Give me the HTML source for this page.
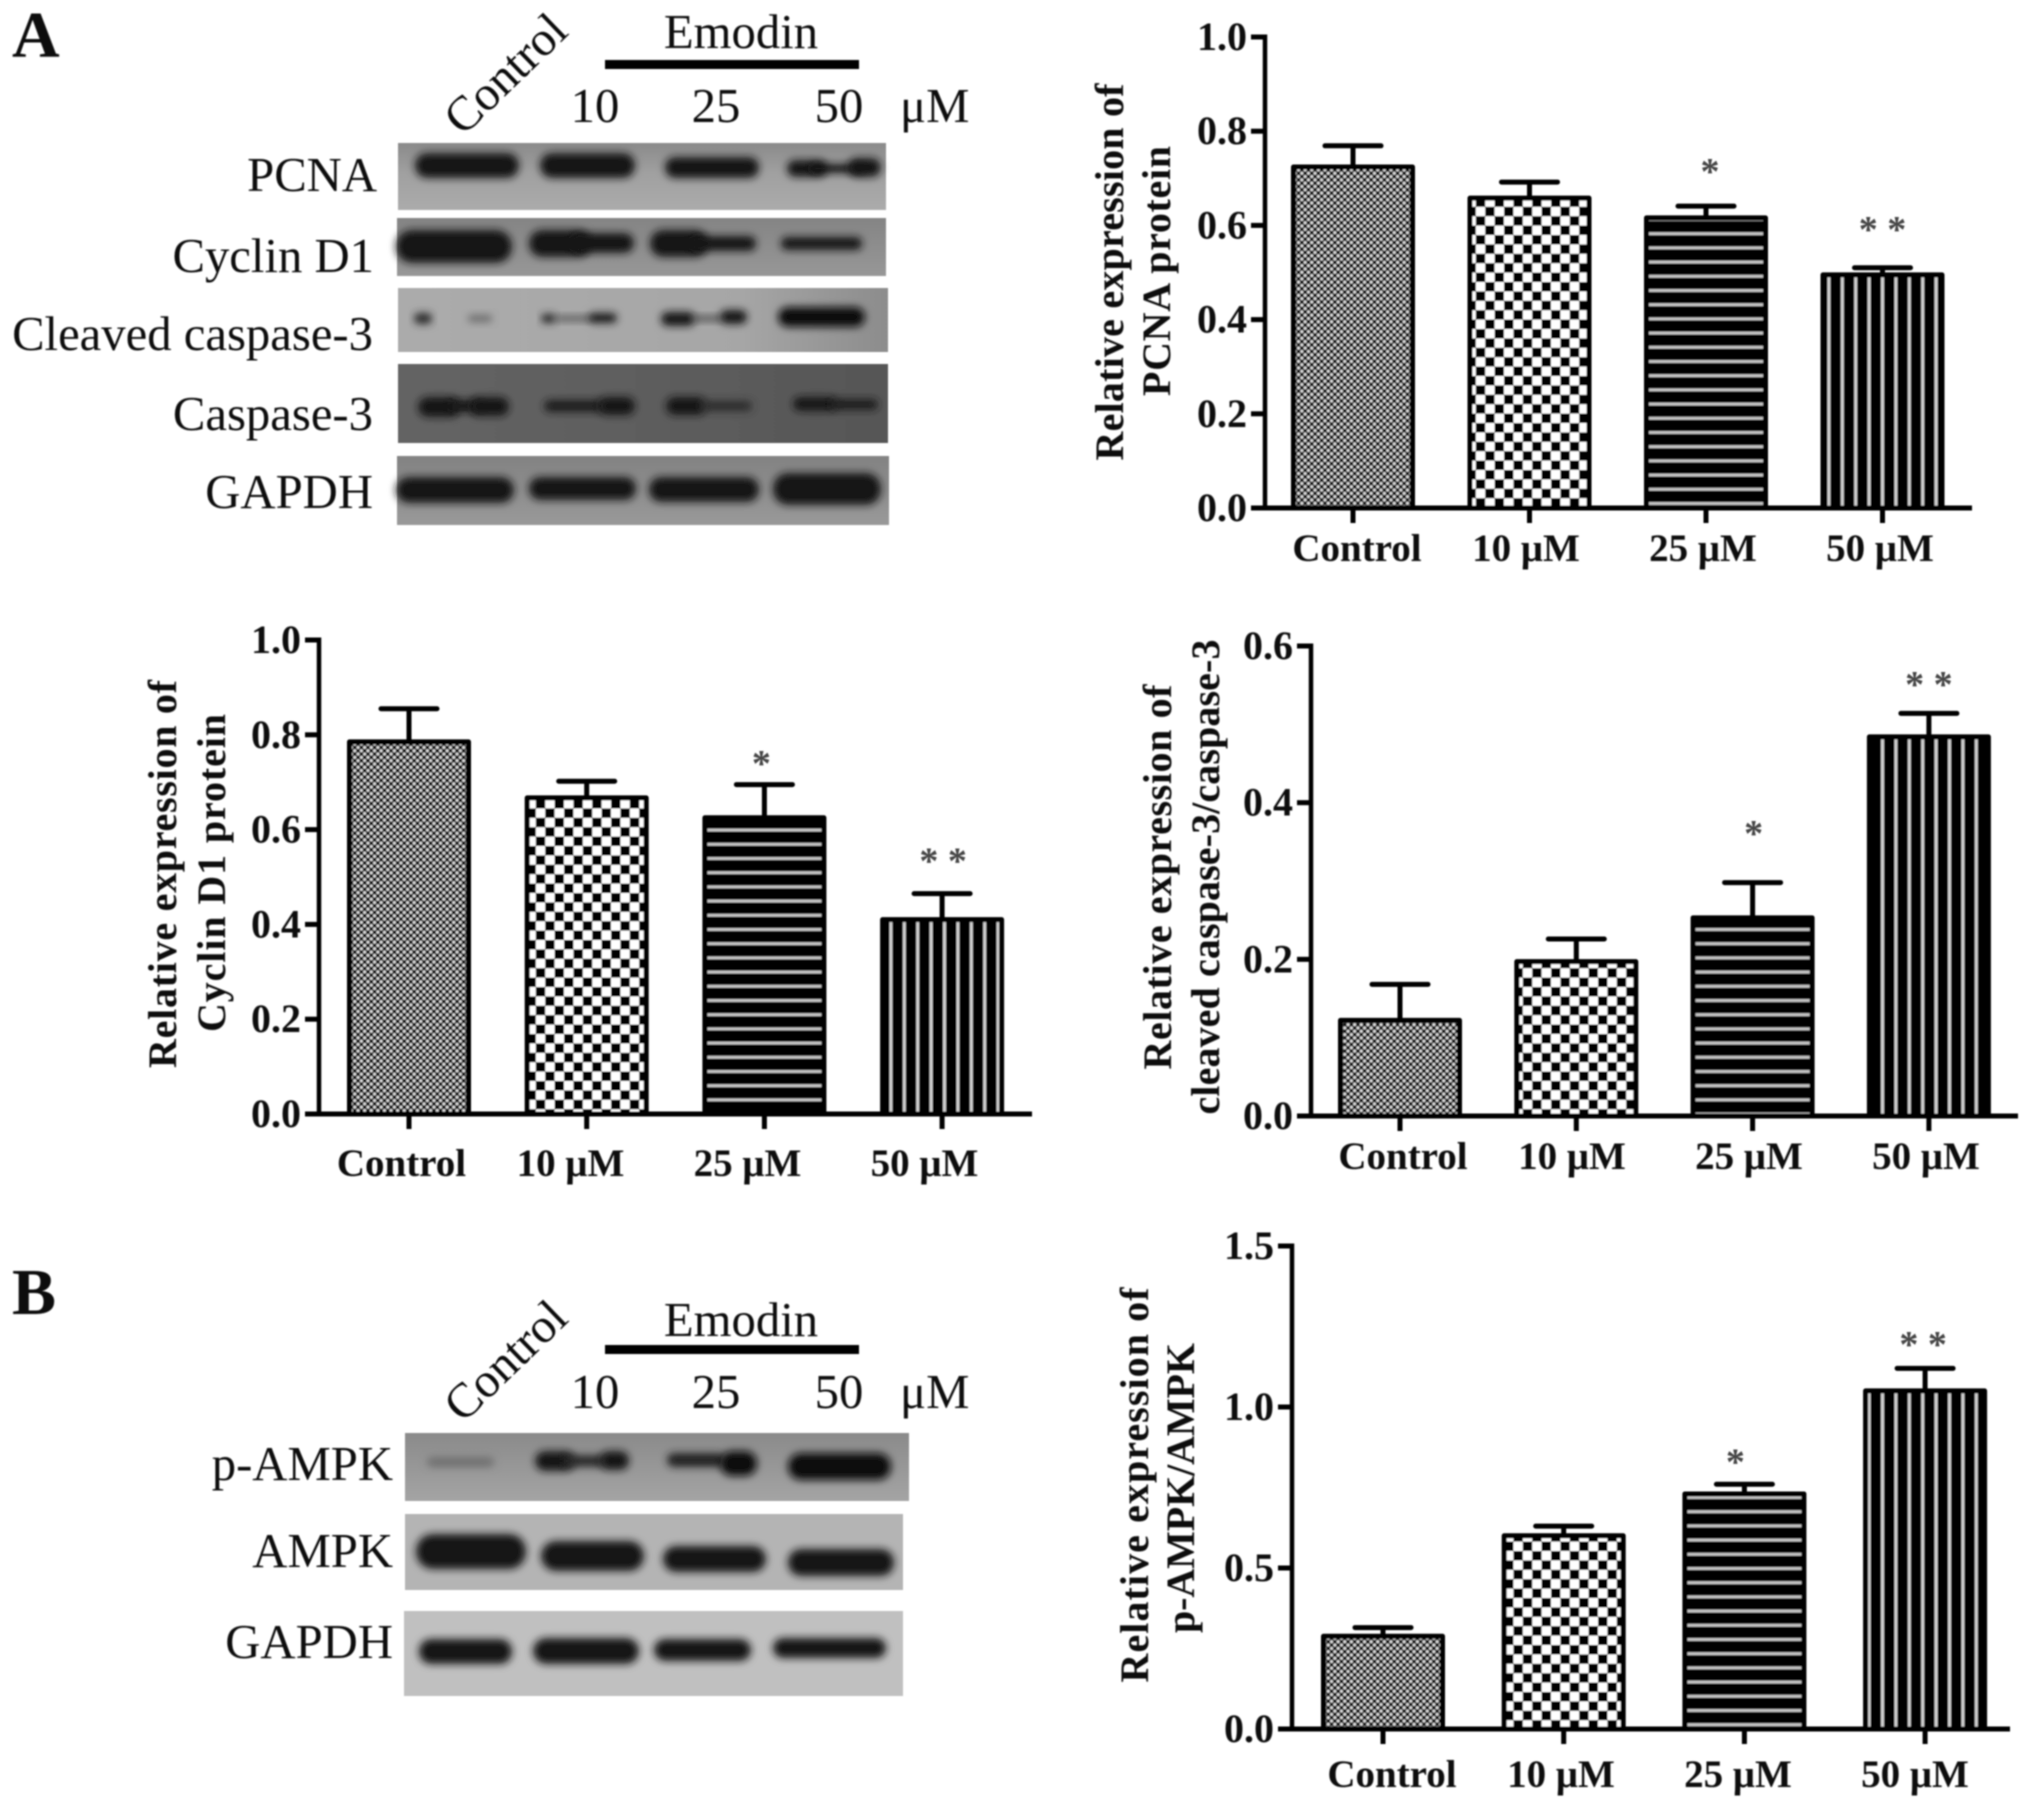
<!DOCTYPE html>
<html lang="en">
<head>
<meta charset="utf-8">
<title>Emodin western blots and relative expression charts</title>
<style>
html,body{margin:0;padding:0;background:#fff;width:2031px;height:1808px;overflow:hidden}
svg{display:block}
text{font-family:"Liberation Serif",serif;fill:#111}
.lab{font-size:48.7px}
.end{text-anchor:end}
.mid{text-anchor:middle}
.chart-text{font-size:40px;font-weight:700}
.band{filter:url(#band-blur);fill:#141414}
</style>
</head>
<body>
<svg id="figure" xmlns="http://www.w3.org/2000/svg" width="2031" height="1808" viewBox="0 0 2031 1808">
<defs>
<filter id="soft" x="-2%" y="-2%" width="104%" height="104%"><feGaussianBlur stdDeviation="0.8"/></filter>
<filter id="band-blur" x="-30%" y="-100%" width="160%" height="300%"><feGaussianBlur stdDeviation="4"/></filter>
<linearGradient id="bg-pcna" x1="0" y1="0" x2="0" y2="1"><stop offset="0" stop-color="#8a8a8a"/><stop offset=".45" stop-color="#a0a0a0"/><stop offset="1" stop-color="#ababab"/></linearGradient>
<linearGradient id="bg-cyclin" x1="0" y1="0" x2="0" y2="1"><stop offset="0" stop-color="#848484"/><stop offset="1" stop-color="#979797"/></linearGradient>
<linearGradient id="bg-cleaved" x1="0" y1="0" x2="1" y2="0"><stop offset="0" stop-color="#ababab"/><stop offset=".7" stop-color="#a6a6a6"/><stop offset="1" stop-color="#8c8c8c"/></linearGradient>
<linearGradient id="bg-caspase" x1="0" y1="0" x2="1" y2="0"><stop offset="0" stop-color="#646464"/><stop offset="1" stop-color="#565656"/></linearGradient>
<linearGradient id="bg-gapdh-a" x1="0" y1="0" x2="0" y2="1"><stop offset="0" stop-color="#828282"/><stop offset="1" stop-color="#999"/></linearGradient>
<linearGradient id="bg-pampk" x1="0" y1="0" x2="0" y2="1"><stop offset="0" stop-color="#8a8a8a"/><stop offset="1" stop-color="#a4a4a4"/></linearGradient>
<pattern id="pat-dots" patternUnits="userSpaceOnUse" width="6.6" height="6.6"><rect width="6.6" height="6.6" fill="#5a5a5a"/><circle cx="1.65" cy="1.65" r="1.4" fill="#e4e4e4"/><circle cx="4.95" cy="4.95" r="1.4" fill="#e4e4e4"/><circle cx="4.95" cy="1.65" r="1.5" fill="#000"/><circle cx="1.65" cy="4.95" r="1.5" fill="#000"/></pattern>
<pattern id="pat-check" patternUnits="userSpaceOnUse" width="18.8" height="18.8"><rect width="18.8" height="18.8" fill="#fff"/><rect width="9.4" height="9.4" fill="#000"/><rect x="9.4" y="9.4" width="9.4" height="9.4" fill="#000"/></pattern>
<pattern id="pat-hlines" patternUnits="userSpaceOnUse" width="14.2" height="14.2"><rect width="14.2" height="14.2" fill="#000"/><rect y="5" width="14.2" height="3" fill="#c4c4c4"/></pattern>
<pattern id="pat-vlines" patternUnits="userSpaceOnUse" width="13.4" height="13.4"><rect width="13.4" height="13.4" fill="#000"/><rect x="5" width="3" height="13.4" fill="#d0d0d0"/></pattern>
</defs>
<g id="root" filter="url(#soft)">

<text x="12" y="57" font-size="66" font-weight="700">A</text>
<text x="12" y="1314" font-size="66" font-weight="700">B</text>

<g>
<text class="lab" transform="translate(463 137) rotate(-44)">Control</text>
<text class="lab mid" x="741" y="48">Emodin</text>
<rect x="605" y="60" width="254" height="9" fill="#000"/>
<text class="lab mid" x="595" y="122">10</text>
<text class="lab mid" x="716" y="122">25</text>
<text class="lab mid" x="839" y="122">50</text>
<text class="lab" x="900" y="122">μM</text>
</g>

<g>
<text class="lab end" x="377" y="191">PCNA</text>
<text class="lab end" x="374" y="272">Cyclin D1</text>
<text class="lab end" x="373" y="350">Cleaved caspase-3</text>
<text class="lab end" x="373" y="430">Caspase-3</text>
<text class="lab end" x="373" y="508">GAPDH</text>
</g>

<g>
<rect x="398" y="143" width="488" height="67" fill="url(#bg-pcna)"/>
<rect class="band" x="415" y="153" width="104" height="25" rx="12"/>
<rect class="band" x="540" y="153" width="95" height="25" rx="12"/>
<rect class="band" x="665" y="157" width="94" height="21" rx="10"/>
<rect class="band" x="787" y="160" width="40" height="17" rx="8"/>
<rect class="band" x="810" y="164" width="55" height="9" rx="4"/>
<rect class="band" x="848" y="158" width="33" height="19" rx="9"/>
</g>
<g>
<rect x="397" y="218" width="489" height="58" fill="url(#bg-cyclin)"/>
<rect class="band" x="396" y="230" width="116" height="33" rx="16"/>
<rect class="band" x="529" y="230" width="62" height="27" rx="13"/>
<rect class="band" x="570" y="233" width="64" height="20" rx="10"/>
<rect class="band" x="650" y="230" width="58" height="27" rx="13"/>
<rect class="band" x="690" y="236" width="66" height="15" rx="7"/>
<rect class="band" x="781" y="237" width="81" height="13" rx="6"/>
</g>
<g>
<rect x="398" y="288" width="490" height="64" fill="url(#bg-cleaved)"/>
<rect class="band" x="414" y="313" width="18" height="11" rx="5" style="fill:#2a2a2a"/>
<rect class="band" x="468" y="315" width="24" height="7" rx="3" style="fill:#6a6a6a"/>
<rect class="band" x="541" y="314" width="15" height="9" rx="4" style="fill:#2a2a2a"/>
<rect class="band" x="555" y="316" width="40" height="5" style="fill:#505050"/>
<rect class="band" x="589" y="313" width="28" height="10" rx="5" style="fill:#1e1e1e"/>
<rect class="band" x="661" y="312" width="34" height="14" rx="7"/>
<rect class="band" x="692" y="316" width="30" height="5" style="fill:#444"/>
<rect class="band" x="720" y="310" width="27" height="14" rx="7"/>
<rect class="band" x="778" y="307" width="87" height="20" rx="10" style="fill:#0f0f0f"/>
</g>
<g>
<rect x="398" y="364" width="490" height="79" fill="url(#bg-caspase)"/>
<rect class="band" x="418" y="397" width="42" height="20" rx="10"/>
<rect class="band" x="450" y="400" width="30" height="12"/>
<rect class="band" x="470" y="397" width="39" height="19" rx="9"/>
<rect class="band" x="544" y="400" width="60" height="12" rx="6" style="fill:#1d1d1d"/>
<rect class="band" x="598" y="397" width="37" height="18" rx="9"/>
<rect class="band" x="666" y="397" width="40" height="18" rx="9"/>
<rect class="band" x="700" y="401" width="52" height="10" rx="5" style="fill:#2a2a2a"/>
<rect class="band" x="793" y="397" width="44" height="14" rx="7"/>
<rect class="band" x="830" y="399" width="48" height="11" rx="5" style="fill:#1d1d1d"/>
</g>
<g>
<rect x="397" y="456" width="492" height="69" fill="url(#bg-gapdh-a)"/>
<rect class="band" x="396" y="477" width="118" height="26" rx="13"/>
<rect class="band" x="529" y="477" width="107" height="23" rx="11"/>
<rect class="band" x="649" y="477" width="110" height="25" rx="12"/>
<rect class="band" x="773" y="473" width="108" height="32" rx="15"/>
</g>

<g>
<text class="lab" transform="translate(463 1424) rotate(-44)">Control</text>
<text class="lab mid" x="741" y="1336">Emodin</text>
<rect x="605" y="1345" width="254" height="9" fill="#000"/>
<text class="lab mid" x="595" y="1408">10</text>
<text class="lab mid" x="716" y="1408">25</text>
<text class="lab mid" x="839" y="1408">50</text>
<text class="lab" x="900" y="1408">μM</text>
</g>
<g>
<text class="lab end" x="393" y="1480">p-AMPK</text>
<text class="lab end" x="393" y="1567">AMPK</text>
<text class="lab end" x="393" y="1658">GAPDH</text>
</g>
<g>
<rect x="405" y="1433" width="504" height="68" fill="url(#bg-pampk)"/>
<rect class="band" x="427" y="1457" width="67" height="10" rx="5" style="fill:#707070"/>
<rect class="band" x="535" y="1451" width="40" height="20" rx="10"/>
<rect class="band" x="565" y="1455" width="40" height="12" style="fill:#2a2a2a"/>
<rect class="band" x="600" y="1451" width="29" height="19" rx="9"/>
<rect class="band" x="667" y="1453" width="58" height="14" rx="7" style="fill:#222"/>
<rect class="band" x="720" y="1451" width="37" height="25" rx="12" style="fill:#0f0f0f"/>
<rect class="band" x="788" y="1453" width="103" height="27" rx="13" style="fill:#0f0f0f"/>
</g>
<g>
<rect x="405" y="1514" width="498" height="76" fill="#b4b4b4"/>
<rect class="band" x="416" y="1534" width="110" height="35" rx="17"/>
<rect class="band" x="541" y="1541" width="103" height="30" rx="15"/>
<rect class="band" x="663" y="1546" width="103" height="26" rx="13"/>
<rect class="band" x="788" y="1549" width="106" height="27" rx="13"/>
</g>
<g>
<rect x="404" y="1611" width="499" height="85" fill="#c0c0c0"/>
<rect class="band" x="419" y="1639" width="93" height="25" rx="12"/>
<rect class="band" x="533" y="1638" width="106" height="26" rx="13"/>
<rect class="band" x="654" y="1639" width="97" height="22" rx="11"/>
<rect class="band" x="773" y="1638" width="113" height="20" rx="10"/>
</g>
<g id="charts"></g>
</g>
</svg>

<script>
const categories = ['Control', '10 μM', '25 μM', '50 μM'];
const barPatterns = ['pat-dots', 'pat-check', 'pat-hlines', 'pat-vlines'];
const sigMarks = ['', '', '*', '* *'];

const pcnaTicks = ['0.0', '0.2', '0.4', '0.6', '0.8', '1.0'];
const pcnaValues = [0.724, 0.658, 0.616, 0.495];
const pcnaErrorTops = [0.769, 0.692, 0.641, 0.51];
const pcnaSigLevels = [0, 0, 0.688, 0.565];

const cyclinTicks = ['0.0', '0.2', '0.4', '0.6', '0.8', '1.0'];
const cyclinValues = [0.785, 0.667, 0.625, 0.41];
const cyclinErrorTops = [0.855, 0.702, 0.695, 0.465];
const cyclinSigLevels = [0, 0, 0.713, 0.507];

const cleavedTicks = ['0.0', '0.2', '0.4', '0.6'];
const cleavedValues = [0.122, 0.197, 0.253, 0.484];
const cleavedErrorTops = [0.168, 0.226, 0.298, 0.514];
const cleavedSigLevels = [0, 0, 0.345, 0.535];

const ampkTicks = ['0.0', '0.5', '1.0', '1.5'];
const ampkValues = [0.288, 0.60, 0.73, 1.05];
const ampkErrorTops = [0.315, 0.63, 0.76, 1.12];
const ampkSigLevels = [0, 0, 0.79, 1.156];

const SVG_NS = 'http://www.w3.org/2000/svg';
const chartsRoot = document.getElementById('charts');

function svgEl(tag, parent, props) {
  const el = document.createElementNS(SVG_NS, tag);
  for (const k in props) el.setAttribute(k, props[k]);
  parent.appendChild(el);
  return el;
}

function drawChart(frame, ticks, values, errorTops, sigLevels, titles) {
  const g = svgEl('g', chartsRoot, {});
  
  

  const maxValue = parseFloat(ticks[ticks.length - 1]);
  const yScale = v => frame.bottom - (v / maxValue) * (frame.bottom - frame.top);
  const xScale = i => frame.firstCenter + i * frame.step;
  const labelX = i => frame.labelAnchor + i * 177 + (i === 0 ? 8 : 0);
  const barWidth = 119;
  const ink = '#050505';

  categories.forEach((cat, i) => {
    const cx = xScale(i);
    const stem = svgEl('line', g, {x1: cx, x2: cx, y1: yScale(values[i]), y2: yScale(errorTops[i]), stroke: ink, 'stroke-width': 5});
    
    
    const cap = svgEl('line', g, {x1: cx - 28, x2: cx + 28, y1: yScale(errorTops[i]), y2: yScale(errorTops[i]), stroke: ink, 'stroke-width': 5, 'stroke-linecap': 'round'});
    
    
    const bar = svgEl('rect', g, {x: cx - barWidth / 2, y: yScale(values[i]), width: barWidth, height: yScale(0) - yScale(values[i]), fill: 'url(#' + barPatterns[i] + ')', stroke: ink, 'stroke-width': 5, 'stroke-linejoin': 'round'});
    
    
    const tick = svgEl('line', g, {x1: cx, x2: cx, y1: frame.bottom, y2: frame.bottom + 15, stroke: ink, 'stroke-width': 5});
    
    
    const label = svgEl('text', g, {x: labelX(i), y: frame.bottom + frame.labelDrop, class: 'chart-text mid', style: 'font-size:39px'});
    label.textContent = cat;
    
    
    if (sigMarks[i]) {
      const sig = svgEl('text', g, {x: cx + frame.sigShift[i], y: yScale(sigLevels[i]), class: 'chart-text mid', style: 'fill:#444;font-size:38px'});
      sig.textContent = sigMarks[i];
      
      
    }
  });

  const yAxis = svgEl('line', g, {x1: frame.left, x2: frame.left, y1: frame.top - 2.5, y2: frame.bottom + 2.5, stroke: ink, 'stroke-width': 4.5});
  
  
  const xAxis = svgEl('line', g, {x1: frame.left - 14, x2: frame.right, y1: frame.bottom, y2: frame.bottom, stroke: ink, 'stroke-width': 5});
  
  

  ticks.forEach(t => {
    const y = yScale(parseFloat(t));
    const tick = svgEl('line', g, {x1: frame.left - 14, x2: frame.left, y1: y, y2: y, stroke: ink, 'stroke-width': 5});
    
    
    const label = svgEl('text', g, {x: frame.left - 18, y: y + 13, class: 'chart-text end'});
    label.textContent = t;
    
    
  });

  titles.forEach(tt => {
    const title = svgEl('text', g, {class: 'chart-text mid', transform: 'translate(' + tt.x + ' ' + tt.y + ') rotate(-90)', textLength: tt.len, lengthAdjust: 'spacing'});
    title.textContent = tt.text;
    
    
  });
}

drawChart({left: 1265, right: 1972, top: 37, bottom: 508, firstCenter: 1353, step: 176.5, labelAnchor: 1349, labelDrop: 53, sigShift: [0, 0, 4, 0]},
  pcnaTicks, pcnaValues, pcnaErrorTops, pcnaSigLevels,
  [{text: 'Relative expression of', x: 1123, y: 272, len: 377}, {text: 'PCNA protein', x: 1170, y: 271, len: 250}]);

drawChart({left: 319, right: 1032, top: 640, bottom: 1114, firstCenter: 409, step: 177.7, labelAnchor: 393.5, labelDrop: 62, sigShift: [0, 0, -3, 1]},
  cyclinTicks, cyclinValues, cyclinErrorTops, cyclinSigLevels,
  [{text: 'Relative expression of', x: 176, y: 874, len: 388}, {text: 'Cyclin D1 protein', x: 225, y: 873, len: 318}]);

drawChart({left: 1311, right: 2018, top: 646, bottom: 1116, firstCenter: 1400, step: 176.3, labelAnchor: 1395, labelDrop: 53, sigShift: [0, 0, 1, 0]},
  cleavedTicks, cleavedValues, cleavedErrorTops, cleavedSigLevels,
  [{text: 'Relative expression of', x: 1171, y: 877, len: 385}, {text: 'cleaved caspase-3/caspase-3', x: 1219, y: 877, len: 475}]);

drawChart({left: 1292, right: 2010, top: 1246, bottom: 1729, firstCenter: 1383, step: 180.7, labelAnchor: 1384, labelDrop: 58, sigShift: [0, 0, -9, -2]},
  ampkTicks, ampkValues, ampkErrorTops, ampkSigLevels,
  [{text: 'Relative expression of', x: 1148, y: 1485, len: 395}, {text: 'p-AMPK/AMPK', x: 1194, y: 1488, len: 290}]);
</script>
</body>
</html>
